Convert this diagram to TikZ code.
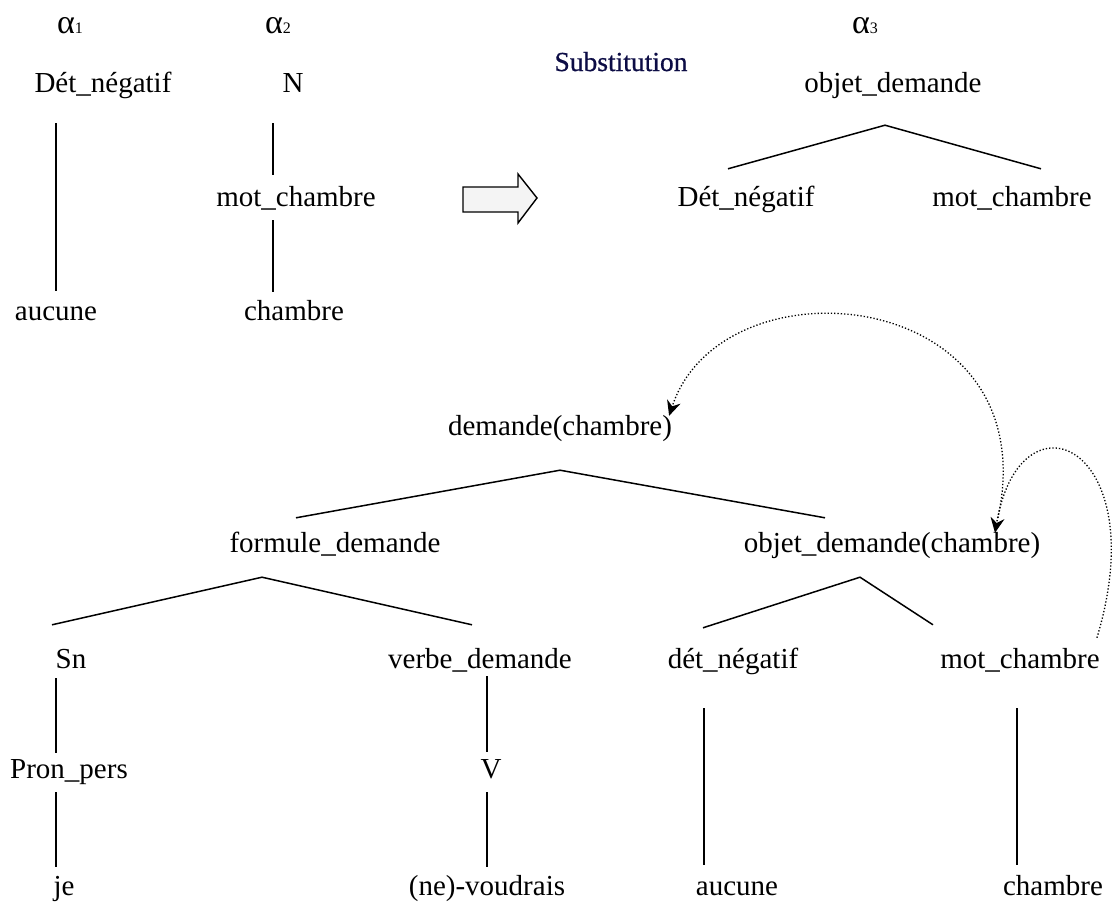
\documentclass[tikz,border=0pt]{standalone}
\usepackage{fontspec}
\setmainfont{Liberation Serif}
\newfontfamily\bannerfont[FakeBold=0.7]{Liberation Serif}
\usetikzlibrary{arrows.meta,calc}
\definecolor{subst}{HTML}{0C0C45}
\definecolor{blockfill}{HTML}{F4F4F4}
\begin{document}
\begin{tikzpicture}[x=1pt, y=-1pt,
    lbl/.style={font=\fontsize{29}{34}\selectfont, anchor=base, inner sep=0pt, text height=20pt, text depth=7pt},
    tname/.style={font=\fontsize{34}{38}\selectfont, anchor=base, inner sep=0pt},
    banner/.style={font=\bannerfont\fontsize{27.5}{32}\selectfont, text=subst, anchor=base, inner sep=0pt},
    branch/.style={line width=1.5pt},
    link/.style={dotted, line width=1.3pt, -{Stealth[length=15pt,width=14pt,inset=5pt]}}]
  \useasboundingbox (0,0) rectangle (1112,902);
  % elementary trees alpha1, alpha2, alpha3
  \node[tname] (al1) at (70,33) {α{\fontsize{16}{18}\selectfont 1}};
  \node[tname] (al2) at (278,33) {α{\fontsize{16}{18}\selectfont 2}};
  \node[tname] (al3) at (865,33) {α{\fontsize{16}{18}\selectfont 3}};
  \node[banner] (subst) at (621,71) {Substitution};
  \node[lbl] (detA) at (103,92) {Dét\_négatif};
  \node[lbl] (nA) at (293,92) {N};
  \node[lbl] (objA) at (893,92) {objet\_demande};
  \node[lbl] (motA) at (296,206) {mot\_chambre};
  \node[lbl] (detB) at (746,206) {Dét\_négatif};
  \node[lbl] (motB) at (1012,206) {mot\_chambre};
  \node[lbl] (aucA) at (56,320) {aucune};
  \node[lbl] (chA) at (294,320) {chambre};
  \draw[branch] ($(detA.south)+(-47,24)$) -- ($(aucA.north)+(0,-9)$);
  \draw[branch] ($(nA.south)+(-20,24)$) -- ($(motA.north)+(-23,-11)$);
  \draw[branch] ($(motA.south)+(-23,7)$) -- ($(chA.north)+(-21,-8)$);
  \draw[branch] ($(detB.north)+(-18,-17)$) -- ($(objA.south)+(-8,26)$) -- ($(motB.north)+(29,-17)$);
  % substitution arrow
  \draw[line width=1.4pt, fill=blockfill] (463,187) -- (518,187) -- (518,174) -- (537,198)
    -- (518,223) -- (518,212) -- (463,212) -- cycle;
  % derived tree
  \node[lbl] (dem) at (560,435) {demande(chambre)};
  \node[lbl] (form) at (335,552) {formule\_demande};
  \node[lbl] (objc) at (892,552) {objet\_demande(chambre)};
  \node[lbl] (sn) at (71,668) {Sn};
  \node[lbl] (verbe) at (480,668) {verbe\_demande};
  \node[lbl] (detC) at (733,668) {dét\_négatif};
  \node[lbl] (motC) at (1020,668) {mot\_chambre};
  \node[lbl] (pron) at (69,778) {Pron\_pers};
  \node[lbl] (vv) at (491,778) {V};
  \node[lbl] (je) at (64,895) {je};
  \node[lbl] (voud) at (487,895) {(ne)-voudrais};
  \node[lbl] (aucC) at (737,895) {aucune};
  \node[lbl] (chC) at (1053,895) {chambre};
  \draw[branch] ($(form.north)+(-39,-14)$) -- ($(dem.south)+(0,28)$) -- ($(objc.north)+(-67,-14)$);
  \draw[branch] ($(sn.north)+(-19,-23)$) -- ($(form.south)+(-73,18)$) -- ($(verbe.north)+(-8,-23)$);
  \draw[branch] ($(detC.north)+(-30,-20)$) -- ($(objc.south)+(-32,18)$) -- ($(motC.north)+(-87,-23)$);
  \draw[branch] ($(sn.south)+(-15,3)$) -- ($(pron.north)+(-13,-5)$);
  \draw[branch] ($(pron.south)+(-13,7)$) -- ($(je.north)+(-8,-8)$);
  \draw[branch] ($(verbe.south)+(7,1)$) -- ($(vv.north)+(-4,-6)$);
  \draw[branch] ($(vv.south)+(-4,7)$) -- ($(voud.north)+(0,-8)$);
  \draw[branch] ($(detC.south)+(-29,33)$) -- ($(aucC.north)+(-33,-10)$);
  \draw[branch] ($(motC.south)+(-3,33)$) -- ($(chC.north)+(-36,-10)$);
  % substitution links
  \draw[link] ($(objc.north)+(106,-14)$) .. controls (1048,285) and (722,255) .. ($(dem.north east)+(-3,1)$);
  \draw[link] ($(motC.north east)+(-3,-10)$) .. controls (1155,445) and (1020,385) .. ($(objc.north)+(103,1)$);
\end{tikzpicture}
\end{document}
